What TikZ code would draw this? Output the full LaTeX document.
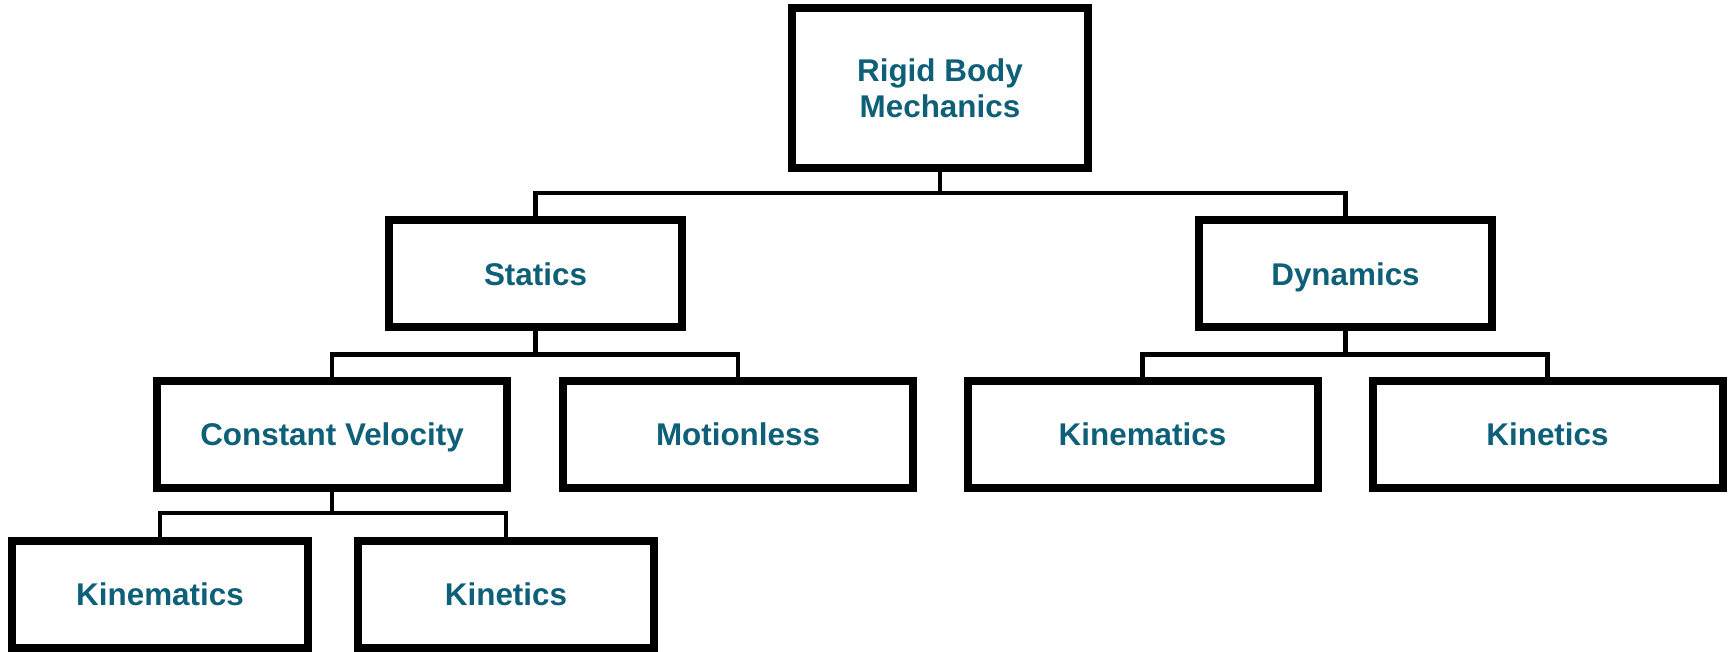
\documentclass[tikz,border=0pt]{standalone}
\usepackage{fontspec}
\setmainfont{Liberation Sans}
\usetikzlibrary{calc}
\definecolor{labelteal}{RGB}{14,96,120}

\begin{document}
\begin{tikzpicture}[
  x=0.5pt, y=0.5pt,
  block/.style = {draw, line width=4pt, fill=white, text=labelteal, inner sep=0pt,
                  font=\fontsize{15.7}{18}\selectfont\bfseries, align=center,
                  minimum height=53.5pt},
  single/.style = {block, text height=11.3pt, text depth=0pt},
  rootbox/.style = {block, minimum width=148pt, minimum height=80pt},
  groupbox/.style = {single, minimum width=146.5pt},
  typebox/.style = {single, minimum width=175pt},
  leafbox/.style = {single, minimum width=148pt},
  link/.style = {line width=2.4pt}
]
  \useasboundingbox (0,0) rectangle (1729,652);

  % Top of the tree
  \node[rootbox] (rigid) at (940,564) {Rigid Body\\Mechanics};

  % First split
  \node[groupbox] (statics) at (535.5,378) {Statics};
  \node[groupbox] (dynamics) at (1345.5,378) {Dynamics};

  % Second level
  \node[typebox] (constvel) at (332,217.5) {Constant Velocity};
  \node[typebox] (motionless) at (738,217.5) {Motionless};
  \node[typebox] (dynkinem) at (1142.5,217.5) {Kinematics};
  \node[typebox] (dynkinet) at (1547.5,217.5) {Kinetics};

  % Under constant velocity
  \node[leafbox] (cvkinem) at (160,57.5) {Kinematics};
  \node[leafbox] (cvkinet) at (506,57.5) {Kinetics};

  % Bus lines
  \coordinate (rigid_bus) at ($(rigid.south)+(0,-21)$);
  \coordinate (statics_bus) at ($(statics.south)+(0,-23)$);
  \coordinate (dynamics_bus) at ($(dynamics.south)+(0,-23)$);
  \coordinate (constvel_bus) at ($(constvel.south)+(0,-21)$);

  \draw[link] (rigid.south) -- (rigid_bus);
  \draw[link] (statics.north) |- (rigid_bus) -| (dynamics.north);

  \draw[link] (statics.south) -- (statics_bus);
  \draw[link] (constvel.north) |- (statics_bus) -| (motionless.north);

  \draw[link] (dynamics.south) -- (dynamics_bus);
  \draw[link] (dynkinem.north) |- (dynamics_bus) -| (dynkinet.north);

  \draw[link] (constvel.south) -- (constvel_bus);
  \draw[link] (cvkinem.north) |- (constvel_bus) -| (cvkinet.north);

\end{tikzpicture}
\end{document}
